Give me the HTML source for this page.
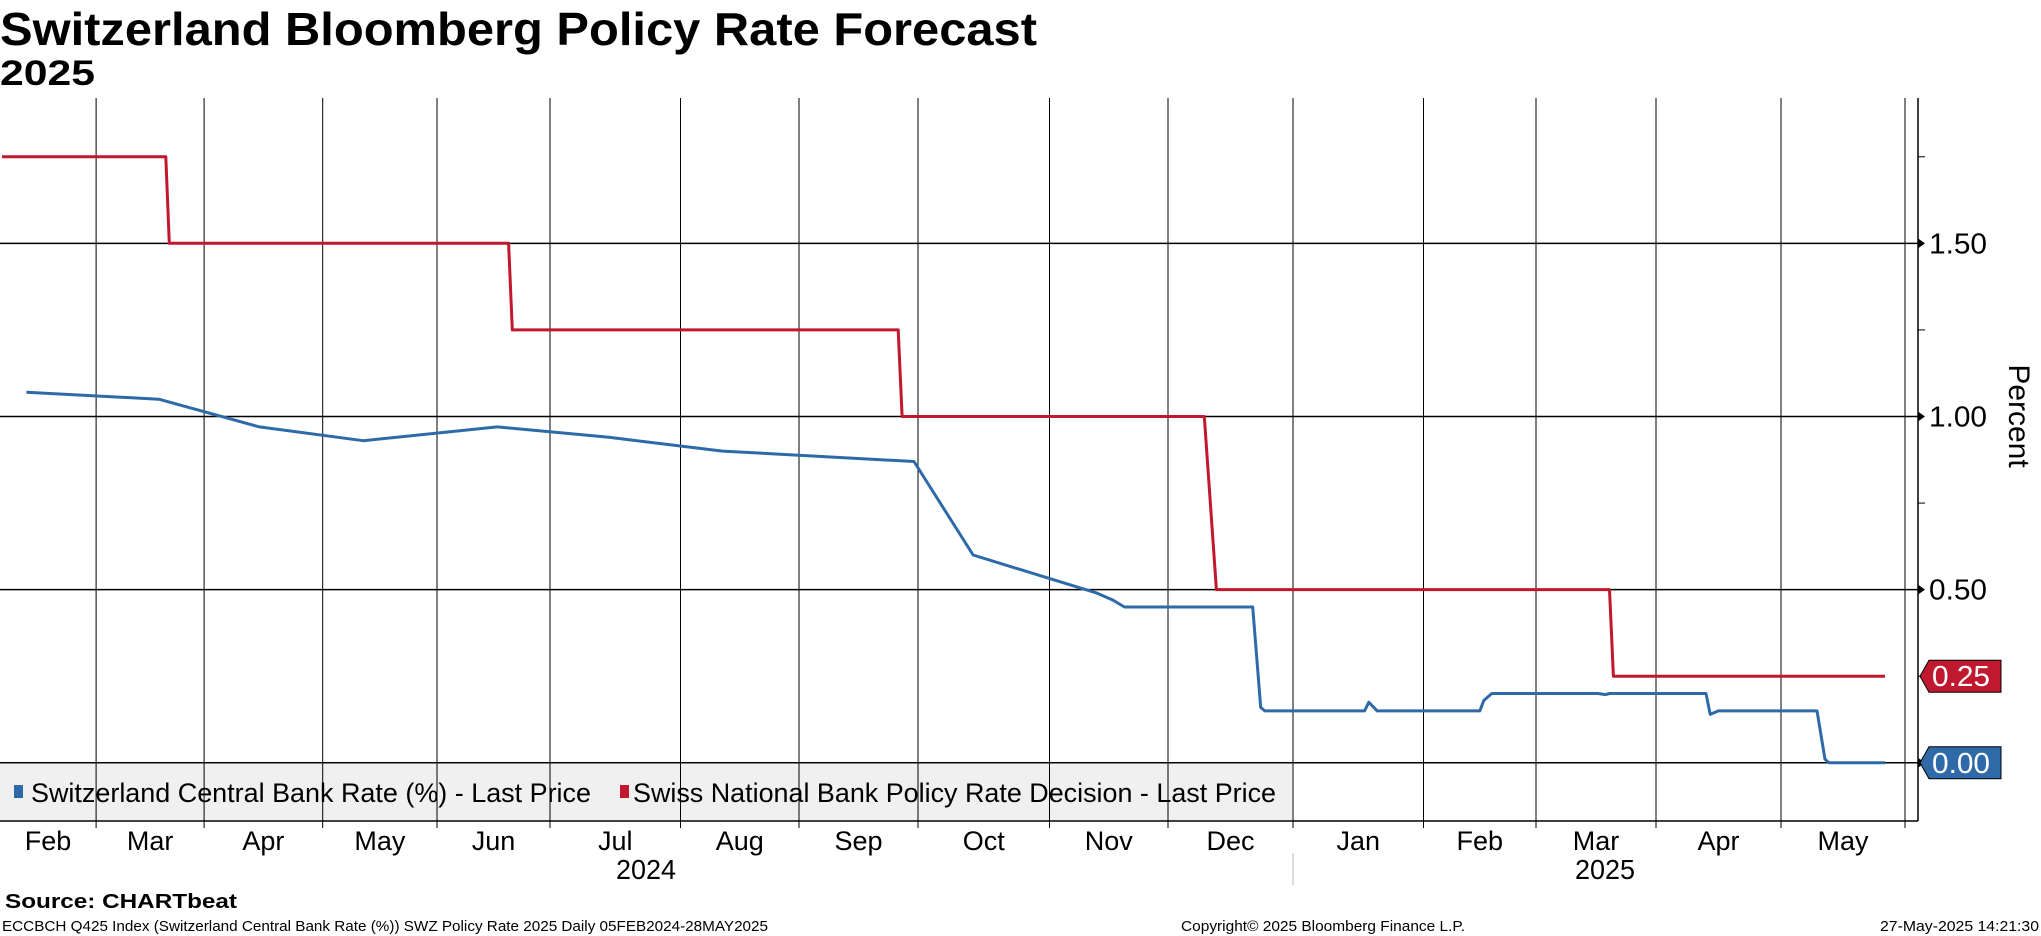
<!DOCTYPE html>
<html><head><meta charset="utf-8"><style>
html,body{margin:0;padding:0;background:#fff;}
svg{display:block;font-family:"Liberation Sans",sans-serif;}
</style></head><body>
<svg id="chart" width="2041" height="936" viewBox="0 0 2041 936" xmlns="http://www.w3.org/2000/svg">
<text x="0" y="45" font-size="46" font-weight="bold" textLength="1037" lengthAdjust="spacingAndGlyphs">Switzerland Bloomberg Policy Rate Forecast</text>
<text x="0" y="85" font-size="35" font-weight="bold" textLength="95" lengthAdjust="spacingAndGlyphs">2025</text>
<rect x="0" y="764" width="1292" height="56" fill="#f0f0f0"/>
<g id="grid"></g>
<g id="series"></g>
<g>
<rect x="14" y="785" width="9" height="13" fill="#2e6aa8"/>
<text x="31" y="802" font-size="27" textLength="560" lengthAdjust="spacingAndGlyphs">Switzerland Central Bank Rate (%) - Last Price</text>
<rect x="620" y="785" width="9" height="13" fill="#c0182e"/>
<text x="633" y="802" font-size="27" textLength="643" lengthAdjust="spacingAndGlyphs">Swiss National Bank Policy Rate Decision - Last Price</text>
</g>
<text transform="translate(2009,416) rotate(90)" text-anchor="middle" font-size="30">Percent</text>
<line x1="1293" y1="853" x2="1293" y2="885" stroke="#bbb" stroke-width="1"/>
<text x="646" y="879" text-anchor="middle" font-size="28" textLength="60" lengthAdjust="spacingAndGlyphs">2024</text>
<text x="1605" y="879" text-anchor="middle" font-size="28" textLength="60" lengthAdjust="spacingAndGlyphs">2025</text>
<text x="5" y="908" font-size="20" font-weight="bold" textLength="232" lengthAdjust="spacingAndGlyphs">Source: CHARTbeat</text>
<text x="2" y="931" font-size="15" textLength="766" lengthAdjust="spacingAndGlyphs">ECCBCH Q425 Index (Switzerland Central Bank Rate (%)) SWZ Policy Rate 2025  Daily 05FEB2024-28MAY2025</text>
<text x="1181" y="931" font-size="15" textLength="284" lengthAdjust="spacingAndGlyphs">Copyright© 2025 Bloomberg Finance L.P.</text>
<text x="2039" y="931" text-anchor="end" font-size="15" textLength="159" lengthAdjust="spacingAndGlyphs">27-May-2025 14:21:30</text>
</svg>
<script>
// ---- data ----
const monthLabels = ["Feb","Mar","Apr","May","Jun","Jul","Aug","Sep","Oct","Nov","Dec","Jan","Feb","Mar","Apr","May"];
const yTicks = [1.50, 1.00, 0.50, 0.00];
const yTickLabels = ["1.50","1.00","0.50","0.00"];
const yMinorTicks = [1.75, 1.25, 0.75, 0.25];
const snbDates = ["2024-02-03","2024-03-21","2024-03-22","2024-06-20","2024-06-21","2024-09-26","2024-09-27","2024-12-10","2024-12-13","2025-03-20","2025-03-21","2025-05-27"];
const snbValues = [1.75,1.75,1.50,1.50,1.25,1.25,1.00,1.00,0.50,0.50,0.25,0.25];
const cbrDates = ["2024-02-10","2024-03-19","2024-04-15","2024-05-12","2024-06-17","2024-07-15","2024-08-12","2024-09-30","2024-10-14","2024-11-13","2024-11-17","2024-11-20","2024-12-22","2024-12-24","2024-12-25","2025-01-18","2025-01-19","2025-01-21","2025-02-15","2025-02-16","2025-02-18","2025-03-17","2025-03-19","2025-03-20","2025-04-13","2025-04-14","2025-04-16","2025-05-10","2025-05-12","2025-05-13","2025-05-27"];
const cbrValues = [1.07,1.05,0.97,0.93,0.97,0.94,0.90,0.87,0.60,0.49,0.47,0.45,0.45,0.16,0.15,0.15,0.175,0.15,0.15,0.18,0.20,0.20,0.197,0.20,0.20,0.14,0.15,0.15,0.01,0.00,0.00];
const lastValues = [0.25, 0.00];

// ---- axis calibration (month-start positions of Bloomberg time axis) ----
const axisMonths = [[2024,2],[2024,3],[2024,4],[2024,5],[2024,6],[2024,7],[2024,8],[2024,9],[2024,10],[2024,11],[2024,12],[2025,1],[2025,2],[2025,3],[2025,4],[2025,5],[2025,6]];
const axisPx = [-5,96.1,204.1,322.7,437,550,680.5,799,918,1049.5,1168,1293,1423.5,1536,1656,1781,1905];
function x(ds){
  const [yy,mm,dd]=ds.split("-").map(Number);
  const i=axisMonths.findIndex(a=>a[0]===yy&&a[1]===mm);
  const dim=new Date(yy,mm,0).getDate();
  return axisPx[i]+(axisPx[i+1]-axisPx[i])*(dd-1)/dim;
}
function y(v){ return 762.8 - v*346.3; }

const NS="http://www.w3.org/2000/svg";
function mk(tag,attrs,parent){const e=document.createElementNS(NS,tag);for(const k in attrs)e.setAttribute(k,attrs[k]);parent.appendChild(e);return e;}
const grid=document.getElementById("grid"), series=document.getElementById("series"), svg=document.getElementById("chart");
const TOP=98, BOT=821, RIGHT=1918;

for(let i=1;i<axisPx.length;i++){
  const l=mk("line",{x1:axisPx[i],y1:TOP,x2:axisPx[i],y2:BOT+7,stroke:"#000","stroke-width":1},grid);
  
  
}
yTicks.forEach((v,i)=>{
  const l=mk("line",{x1:0,y1:y(v),x2:RIGHT,y2:y(v),stroke:"#000","stroke-width":1.5},grid);
  
  
  const a=mk("polygon",{points:`${RIGHT},${y(v)-5} ${RIGHT+7},${y(v)} ${RIGHT},${y(v)+5}`,fill:"#000"},grid);
  
  
  if(v>0.3){
    const t=mk("text",{x:1929,y:y(v)+10,"font-size":29,textLength:58,lengthAdjust:"spacingAndGlyphs"},grid);
    t.textContent=yTickLabels[i];
    
    
  }
});
yMinorTicks.forEach(v=>{
  const l=mk("line",{x1:RIGHT,y1:y(v),x2:RIGHT+7,y2:y(v),stroke:"#000","stroke-width":1},grid);
  
  
});
const ax=mk("line",{x1:RIGHT,y1:TOP,x2:RIGHT,y2:BOT,stroke:"#000","stroke-width":1.5},grid);


const bx=mk("line",{x1:0,y1:BOT,x2:RIGHT,y2:BOT,stroke:"#000","stroke-width":1.5},grid);


monthLabels.forEach((m,i)=>{
  const cx=(Math.max(axisPx[i],0)+axisPx[i+1])/2;
  const t=mk("text",{x:cx,y:850,"text-anchor":"middle","font-size":27},grid);
  t.textContent=m;
  
  
});

function line(dates,vals,color,name){
  const pts=dates.map((d,i)=>`${Math.max(0,x(d)).toFixed(1)},${y(vals[i]).toFixed(1)}`).join(" ");
  const p=mk("polyline",{points:pts,fill:"none",stroke:color,"stroke-width":3,"stroke-linejoin":"round"},series);
  
  
}
line(snbDates,snbValues,"#c0182e","snb-policy-rate-line");
line(cbrDates,cbrValues,"#2e6aa8","central-bank-rate-line");

[["#c0182e",lastValues[0],"last-value-tag-snb"],["#2e6aa8",lastValues[1],"last-value-tag-cbr"]].forEach(([c,v,n])=>{
  const yy=y(v);
  const g=mk("g",{},svg);
  
  
  mk("polygon",{points:`1920,${yy} 1929,${yy-16} 2001,${yy-16} 2001,${yy+16} 1929,${yy+16}`,fill:c,stroke:"#000","stroke-width":1},g);
  const t=mk("text",{x:1932,y:yy+10,"font-size":29,fill:"#fff",textLength:58,lengthAdjust:"spacingAndGlyphs"},g);
  t.textContent=v.toFixed(2);
});
</script>
</body></html>
